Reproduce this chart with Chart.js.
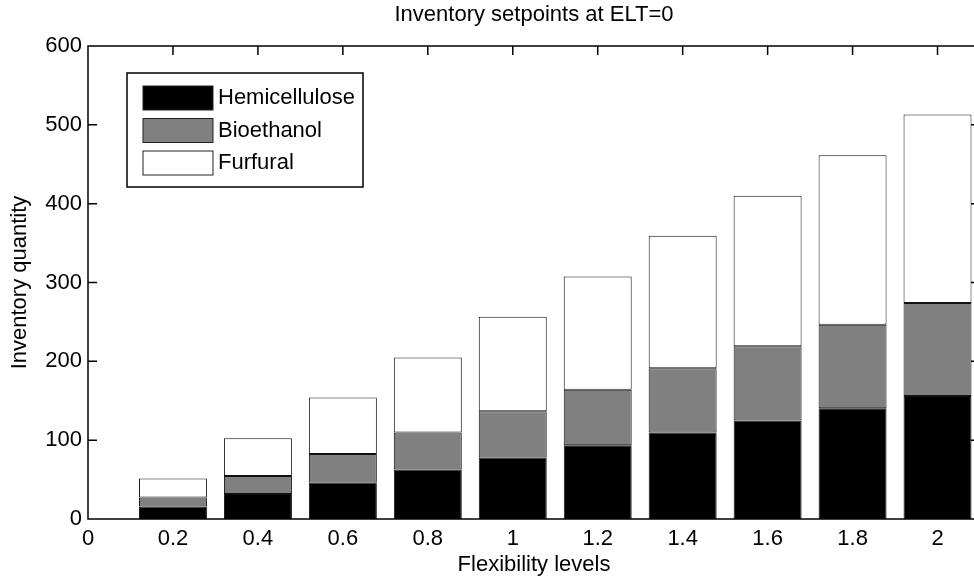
<!DOCTYPE html>
<html>
<head>
<meta charset="utf-8">
<title>Inventory setpoints at ELT=0</title>
<script src="https://cdn.jsdelivr.net/npm/chart.js@4"></script>
<style>
  html, body { margin: 0; padding: 0; background: #fff; overflow: hidden; }
  #wrap { width: 974px; height: 577px; overflow: hidden; }
</style>
</head>
<body>
<div id="wrap"><canvas id="inventoryChart" width="990" height="577"></canvas></div>
<script>
// Flexibility levels and stacked inventory setpoints at each level
var levels = [0.2, 0.4, 0.6, 0.8, 1, 1.2, 1.4, 1.6, 1.8, 2];
var hemicellulose = [16, 31.6, 46.4, 62.9, 78, 93.7, 109.7, 125, 140.5, 156];
var bioethanol = [11.4, 22.8, 35.9, 46.8, 58.7, 70.3, 81.5, 94.2, 106, 118];
var furfural = [24.1, 48.1, 71.7, 95.3, 120, 143.6, 168, 190.8, 215, 239];

var xTicks = [0, 0.2, 0.4, 0.6, 0.8, 1, 1.2, 1.4, 1.6, 1.8, 2];
var yTicks = [0, 100, 200, 300, 400, 500, 600];

var FONT = '"Liberation Sans", Arial, Helvetica, sans-serif';
Chart.defaults.font.family = FONT;
Chart.defaults.font.size = 22;
Chart.defaults.color = '#000';

// Box around the plot area with inward tick marks on all four sides
var boxAxes = {
    id: 'boxAxes',
    afterDatasetsDraw: function (chart) {
        var ctx = chart.ctx, a = chart.chartArea;
        var xs = chart.scales.x, ys = chart.scales.y;
        var len = 9;
        ctx.save();
        ctx.strokeStyle = '#000';
        ctx.lineWidth = 1.5;
        ctx.beginPath();
        xs.ticks.forEach(function (t) {
            var px = xs.getPixelForValue(t.value);
            ctx.moveTo(px, a.bottom); ctx.lineTo(px, a.bottom - len);
            ctx.moveTo(px, a.top); ctx.lineTo(px, a.top + len);
        });
        ys.ticks.forEach(function (t) {
            var py = ys.getPixelForValue(t.value);
            ctx.moveTo(a.left, py); ctx.lineTo(a.left + len, py);
            ctx.moveTo(a.right, py); ctx.lineTo(a.right - len, py);
        });
        ctx.rect(a.left, a.top, a.right - a.left, a.bottom - a.top);
        ctx.stroke();
        ctx.restore();
    }
};

// Framed legend in the upper left corner of the plot
var boxLegend = {
    id: 'boxLegend',
    afterDraw: function (chart) {
        var ctx = chart.ctx, a = chart.chartArea;
        var left = a.left + 39, top = a.top + 27, w = 236, h = 114;
        ctx.save();
        ctx.fillStyle = '#fff';
        ctx.fillRect(left, top, w, h);
        ctx.strokeStyle = '#000';
        ctx.lineWidth = 1.5;
        ctx.strokeRect(left, top, w, h);
        ctx.font = '22px ' + FONT;
        ctx.textBaseline = 'middle';
        chart.data.datasets.forEach(function (ds, i) {
            var cy = top + 25 + i * 32.5;
            ctx.fillStyle = ds.backgroundColor;
            ctx.fillRect(left + 16, cy - 12, 70, 24);
            ctx.strokeStyle = '#222';
            ctx.lineWidth = 1;
            ctx.strokeRect(left + 16, cy - 12, 70, 24);
            ctx.fillStyle = '#000';
            ctx.fillText(ds.label, left + 91, cy);
        });
        ctx.restore();
    }
};

function barSet(label, data, color) {
    return {
        label: label,
        data: data,
        backgroundColor: color,
        borderColor: '#111',
        borderWidth: 1,
        borderSkipped: false,
        categoryPercentage: 1,
        barPercentage: 0.8
    };
}

var ctx = document.getElementById('inventoryChart').getContext('2d');
new Chart(ctx, {
    type: 'bar',
    data: {
        labels: levels,
        datasets: [
            barSet('Hemicellulose', hemicellulose, '#000000'),
            barSet('Bioethanol', bioethanol, '#808080'),
            barSet('Furfural', furfural, '#ffffff')
        ]
    },
    options: {
        responsive: false,
        animation: false,
        layout: { padding: { left: 0, right: 10, top: 0, bottom: 0 } },
        plugins: {
            legend: { display: false },
            tooltip: { enabled: false },
            title: {
                display: true,
                text: 'Inventory setpoints at ELT=0',
                fullSize: false,
                color: '#000',
                font: { size: 22, weight: 'normal' },
                padding: { top: 2, bottom: 17.6 }
            }
        },
        scales: {
            x: {
                type: 'linear',
                min: 0,
                max: 2.1,
                offset: false,
                stacked: true,
                grid: { display: false, drawTicks: false, offset: false },
                border: { display: false },
                afterBuildTicks: function (scale) {
                    scale.ticks = xTicks.map(function (v) { return { value: v }; });
                },
                afterFit: function (scale) { scale.height = 58; },
                ticks: {
                    padding: 7,
                    autoSkip: false,
                    maxRotation: 0,
                    callback: function (value) { return String(value); }
                },
                title: {
                    display: true,
                    text: 'Flexibility levels',
                    padding: { top: 0, bottom: -1.5 }
                }
            },
            y: {
                min: 0,
                max: 600,
                stacked: true,
                grid: { display: false, drawTicks: false },
                border: { display: false },
                afterBuildTicks: function (scale) {
                    scale.ticks = yTicks.map(function (v) { return { value: v }; });
                },
                afterFit: function (scale) { scale.width = 88; },
                ticks: {
                    padding: 6,
                    callback: function (value) { return String(value); }
                },
                title: {
                    display: true,
                    text: 'Inventory quantity',
                    padding: { top: 7, bottom: 0 }
                }
            }
        }
    },
    plugins: [boxAxes, boxLegend]
});
</script>
</body>
</html>
